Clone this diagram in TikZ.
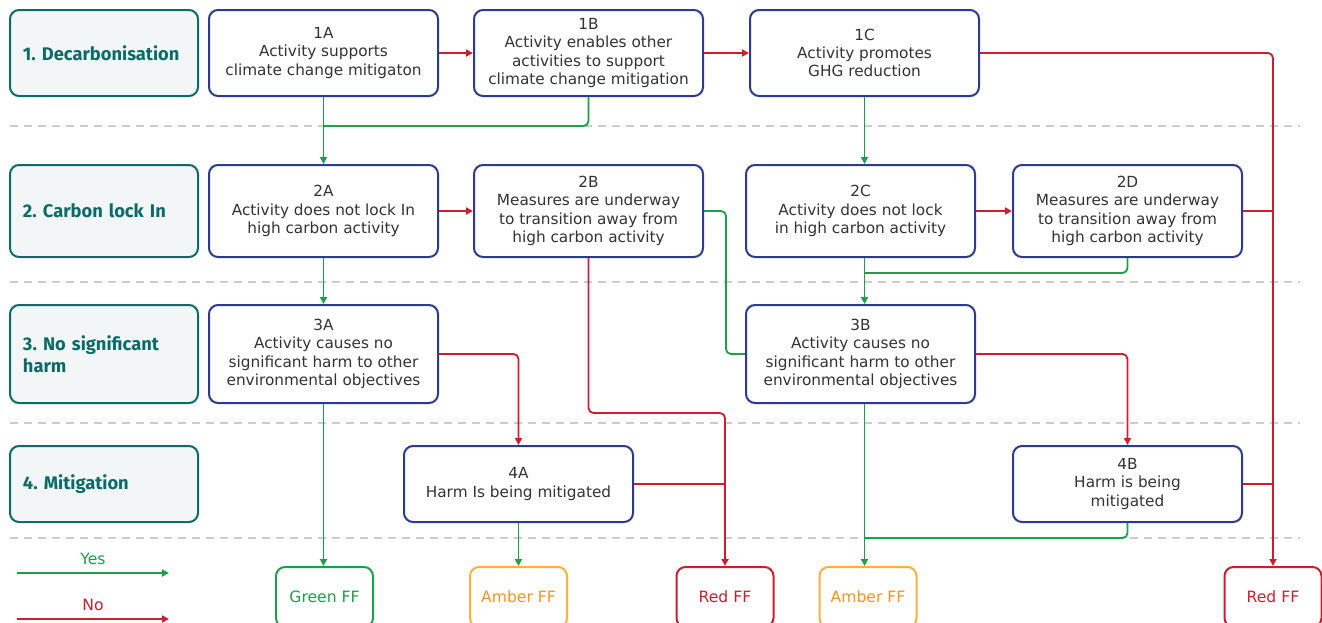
\documentclass[tikz,border=0pt]{standalone}
\usepackage{fontspec}
\setmainfont{DejaVu Sans}
\newfontfamily\labfont{Fira Sans}
\usetikzlibrary{arrows.meta,calc}
\definecolor{navy}{HTML}{2B3A93}
\definecolor{tealc}{HTML}{0A6B68}
\definecolor{labfill}{HTML}{F2F6F7}
\definecolor{grn}{HTML}{1E9E4A}
\definecolor{redc}{HTML}{C8202F}
\definecolor{amber}{HTML}{FBB040}
\definecolor{ambertxt}{HTML}{F39321}
\definecolor{txt}{HTML}{333333}
\definecolor{dash}{HTML}{CCCCCC}
\tikzset{
  lab/.style={draw=tealc, fill=labfill, rounded corners=9pt, line width=2pt,
    minimum width=188pt, text width=162pt, align=left, text=tealc,
    font=\labfont\fontsize{18.3}{22}\selectfont\bfseries\frenchspacing},
  box/.style={draw=navy, fill=white, rounded corners=9pt, line width=2pt,
    minimum width=229pt, align=center, text=txt,
    font=\fontsize{15.3}{18.3}\selectfont},
  term/.style={rounded corners=9pt, line width=2pt, minimum width=97pt,
    minimum height=60pt, align=center, font=\fontsize{15.6}{18}\selectfont},
  tip/.style={-{Triangle[length=7pt,width=7pt]}},
  yesl/.style={draw=grn, line width=1.8pt, rounded corners=5pt},
  nol/.style={draw=redc, line width=1.8pt, rounded corners=5pt},
  sep/.style={draw=dash, line width=1.4pt, dash pattern=on 8pt off 6pt},
}
\begin{document}
\begin{tikzpicture}[x=1pt,y=-1pt]
\useasboundingbox (0,0) rectangle (1322,622);
% separators
\foreach \yy in {126,282,423,538} \draw[sep] (10,\yy) -- (1300,\yy);
% labels
\node[lab, minimum height=86pt] (L1) at (104,53) {1. Decarbonisation};
\node[lab, minimum height=92pt] (L2) at (104,211) {2. Carbon lock In};
\node[lab, minimum height=98pt] (L3) at (104,354) {3. No significant harm};
\node[lab, minimum height=76pt] (L4) at (104,484) {4. Mitigation};
% row 1
\node[box, minimum height=86pt] (A1) at (323.5,53) {1A\\Activity supports\\climate change mitigaton};
\node[box, minimum height=86pt] (B1) at (588.5,53) {1B\\Activity enables other\\activities to support\\climate change mitigation};
\node[box, minimum height=86pt] (C1) at (864.5,53) {1C\\Activity promotes\\GHG reduction};
% row 2
\node[box, minimum height=92pt] (A2) at (323.5,211) {2A\\Activity does not lock In\\high carbon activity};
\node[box, minimum height=92pt] (B2) at (588.5,211) {2B\\Measures are underway\\to transition away from\\high carbon activity};
\node[box, minimum height=92pt] (C2) at (860.5,211) {2C\\Activity does not lock\\in high carbon activity};
\node[box, minimum height=92pt] (D2) at (1127.5,211) {2D\\Measures are underway\\to transition away from\\high carbon activity};
% row 3
\node[box, minimum height=98pt] (A3) at (323.5,354) {3A\\Activity causes no\\significant harm to other\\environmental objectives};
\node[box, minimum height=98pt] (B3) at (860.5,354) {3B\\Activity causes no\\significant harm to other\\environmental objectives};
% row 4
\node[box, minimum height=76pt] (A4) at (518.5,484) {4A\\Harm Is being mitigated};
\node[box, minimum height=76pt] (B4) at (1127.5,484) {4B\\Harm is being\\mitigated};
% terminals
\node[term, draw=grn, text=grn] (G1) at (324.5,597) {Green FF};
\node[term, draw=amber, text=ambertxt] (M1) at (518.5,597) {Amber FF};
\node[term, draw=redc, text=redc] (R1) at (725,597) {Red FF};
\node[term, draw=amber, text=ambertxt] (M2) at (868,597) {Amber FF};
\node[term, draw=redc, text=redc] (R2) at (1273,597) {Red FF};
% coordinates for joins
\coordinate (j1) at (323.5,126);
\coordinate (j2) at (864.5,273);
\coordinate (j3) at (864.5,538);
\coordinate (k1) at (725,413);
% row 1 connectors
\draw[nol,tip] (A1.east) -- (B1.west);
\draw[nol,tip] (B1.east) -- (C1.west);
\draw[yesl,tip] (A1.south) -- (A2.north);
\draw[yesl] (B1.south) |- (j1);
\draw[yesl,tip] (C1.south) -- (C1.south |- C2.north);
\draw[nol,tip] (C1.east) -| (R2.north);
% row 2 connectors
\draw[nol,tip] (A2.east) -- (B2.west);
\draw[yesl,tip] (A2.south) -- (A3.north);
\draw[yesl] (B2.east) -- ++(22,0) |- (B3.west);
\draw[nol,tip] (B2.south) |- (k1) -- (R1.north);
\draw[nol,tip] (C2.east) -- (D2.west);
\draw[yesl,tip] (C1.south |- C2.south) -- (C1.south |- B3.north);
\draw[yesl] (D2.south) |- (j2);
\draw[nol] (D2.east) -- (D2.east -| R2.north);
% row 3 connectors
\draw[nol,tip] (A3.east) -| (A4.north);
\draw[yesl,tip] (A3.south) -- (A3.south |- G1.north);
\draw[nol,tip] (B3.east) -| (B4.north);
\draw[yesl,tip] (C1.south |- B3.south) -- (C1.south |- M2.north);
% row 4 connectors
\draw[nol] (A4.east) -- (A4.east -| R1.north);
\draw[yesl,tip] (A4.south) -- (A4.south |- M1.north);
\draw[nol] (B4.east) -- (B4.east -| R2.north);
\draw[yesl] (B4.south) |- (j3);
% legend
\coordinate (ly1) at (17,573); \coordinate (ly2) at (169,573);
\coordinate (ln1) at (17,619); \coordinate (ln2) at (169,619);
\draw[yesl,tip] (ly1) -- (ly2);
\draw[nol,tip] (ln1) -- (ln2);
\node[text=grn, font=\fontsize{15.6}{18}\selectfont] (ty) at (93,559) {Yes};
\node[text=redc, font=\fontsize{15.6}{18}\selectfont] (tn) at (93,605) {No};
\end{tikzpicture}
\end{document}
